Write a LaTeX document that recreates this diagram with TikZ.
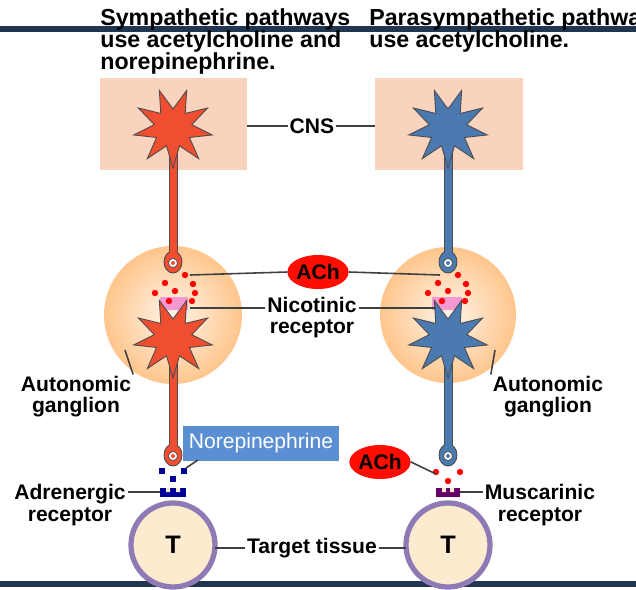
\documentclass[tikz,border=0pt]{standalone}
\usepackage{fontspec}
\setmainfont{Liberation Sans}
\usetikzlibrary{calc,shapes.geometric}
\definecolor{symred}{HTML}{F04E30}
\definecolor{parblue}{HTML}{4A7AB0}
\definecolor{cnsbox}{HTML}{FAD3BE}
\definecolor{navy}{HTML}{1F3550}
\definecolor{nebox}{HTML}{5B8FD4}
\definecolor{tissue}{HTML}{FDEBD0}
\definecolor{rim}{HTML}{8E7BB5}
\tikzset{
  lbl/.style={font=\bfseries\large,align=center,inner sep=1pt},
  lead/.style={draw=black!75,line width=0.9pt},
  ach/.style={ellipse,fill=red!90!orange,inner sep=0pt,font=\bfseries\large,minimum height=0.68cm},
  cell/.style={draw=black!70,line width=0.5pt},
  head/.style={anchor=north west,align=left,inner sep=0pt,font=\fontsize{13.2}{12.6}\bfseries\selectfont}
}
\newcommand\spiky[3]{% x, y, colour
  \begin{scope}[shift={(#1,#2)}]
    \fill[cell,fill=#3] (90:40) \foreach \a in {1,...,9}{ -- (90+\a*40-20:19) -- (90+\a*40:40)} -- cycle;
  \end{scope}}
\newcommand\bulb[4]{% x, ytop, ybulb, colour
  \fill[cell,fill=#4] (#1-4,#2) rectangle (#1+4,#3-8);
  \fill[cell,fill=#4] (#1,#3) ellipse (9 and 11);
  \fill[#4] (#1-3.5,#2) rectangle (#1+3.5,#3-8);
  \draw[fill=white,draw=black!70] (#1,#3+1) circle (4.5);
  \fill[#4] (#1,#3+1) circle (2);}
\begin{document}
\begin{tikzpicture}[x=0.02cm,y=-0.02cm]
\useasboundingbox (0,0) rectangle (636,589);
% rules
\draw[navy,line width=3pt] (0,29) -- (636,29);
\draw[navy,line width=3pt] (0,584) -- (636,584);
% headings
\node[head] (hsym) at (100,8) {Sympathetic pathways\\use acetylcholine and\\norepinephrine.};
\node[head] (hpar) at (369,8) {Parasympathetic pathways\\use acetylcholine.};
% CNS
\fill[cnsbox] (100,78) rectangle (247,170);
\fill[cnsbox] (375,78) rectangle (523,170);
\coordinate (cnsl) at (247,126);
\coordinate (cnsr) at (375,126);
\node[lbl] (cns) at (312,126) {CNS};
\draw[lead] (cnsl) -- (cns.west);
\draw[lead] (cns.east) -- (cnsr);
% ganglia
\shade[inner color=white!60!orange!20,outer color=orange!45] (173,315) circle (69);
\shade[inner color=white!60!orange!20,outer color=orange!45] (448,315) circle (68);
% preganglionic neurons
\bulb{173}{128}{262}{symred}
\bulb{448}{128}{262}{parblue}
\spiky{173}{128}{symred}
\spiky{448}{128}{parblue}
% receptors
\fill[magenta!40] (160,297) rectangle (188,310);
\fill[magenta!40] (432,297) rectangle (462,310);
% postganglionic neurons
\bulb{173}{335}{455}{symred}
\bulb{448}{335}{455}{parblue}
\spiky{173}{338}{symred}
\spiky{448}{338}{parblue}
% ACh dots
\foreach \dx/\dy in {12/275,-8/283,20/284,-18/293,2/291,22/293,-4/301,19/301}{
  \fill[red] (173+\dx,\dy) circle (3.2);
  \fill[red] (448+\dx-2,\dy) circle (3.2);}
\foreach \dx/\dy in {-12/482,12/482,0/491}{
  \fill[red] (448+\dx,\dy-10) circle (3.2);}
% norepinephrine squares
\foreach \dx/\dy in {-11/471,11/471,0/479}
  \fill[blue!60!black] (173+\dx-3,\dy-3) rectangle ++(6,6);
\fill[blue!60!black] (160,488) rectangle (186,497);
\fill[tissue] (166,488) rectangle (170,492) (176,488) rectangle (180,492);
\fill[violet!80!black] (436,488) rectangle (460,497);
\fill[tissue] (442,488) rectangle (446,492) (450,488) rectangle (454,492);
% target tissue
\draw[fill=tissue,draw=rim,line width=3pt] (173,545) circle (42);
\draw[fill=tissue,draw=rim,line width=3pt] (448,545) circle (42);
\node[lbl,font=\bfseries\Large] (tl) at (173,545) {T};
\node[lbl,font=\bfseries\Large] (tr) at (448,545) {T};
\node[lbl] (tgt) at (312,548) {Target tissue};
\coordinate (tle) at (215,548);
\coordinate (tre) at (406,548);
\draw[lead] (tle) -- (tgt.west);
\draw[lead] (tgt.east) -- (tre);
% ACh at ganglion
\node[ach] (ach1) at (318,272) {ACh};
\coordinate (dl) at (190,275);
\coordinate (dr) at (440,275);
\draw[lead] (dl) -- (ach1.west);
\draw[lead] (ach1.east) -- (dr);
% nicotinic
\node[lbl] (nic) at (312,318) {Nicotinic\\[-2pt]receptor};
\coordinate (nl) at (190,308);
\coordinate (nr) at (436,308);
\draw[lead] (nl) -- (nic.north west|-nl) ;
\draw[lead] (nic.north east|-nr) -- (nr);
% autonomic ganglion
\node[lbl] (agl) at (76,397) {Autonomic\\[-2pt]ganglion};
\node[lbl] (agr) at (548,397) {Autonomic\\[-2pt]ganglion};
\coordinate (gl) at (125,350);
\coordinate (gr) at (495,350);
\draw[lead] (agl.north east) -- (gl);
\draw[lead] (agr.north west) -- (gr);
% norepinephrine
\node[fill=nebox,text=white,font=\large,minimum width=3.14cm,minimum height=0.7cm,inner sep=2pt] (ne) at (261,443) {Norepinephrine};
\coordinate (nd) at (186,468);
\draw[lead] (nd) -- (198,460);
% ACh at target
\node[ach] (ach2) at (380,462) {ACh};
\coordinate (ad) at (436,474);
\draw[lead] (ach2.east) -- (ad);
% receptors
\node[lbl] (adr) at (70,505) {Adrenergic\\[-2pt]receptor};
\node[lbl] (mus) at (540,505) {Muscarinic\\[-2pt]receptor};
\coordinate (ar) at (160,492);
\coordinate (mr) at (460,492);
\draw[lead] (adr.east|-ar) -- (ar);
\draw[lead] (mr) -- (mus.west|-mr);
\end{tikzpicture}
\end{document}
